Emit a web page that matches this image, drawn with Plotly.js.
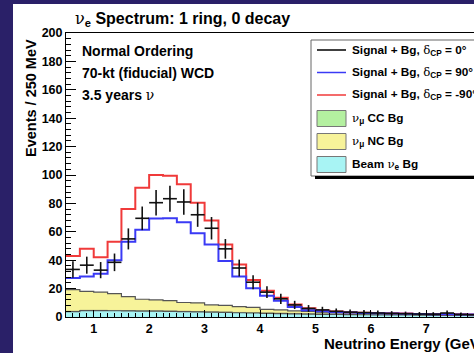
<!DOCTYPE html>
<html>
<head>
<meta charset="utf-8">
<script src="https://cdn.plot.ly/plotly-3.0.1.min.js"></script>
<style>
  html, body { margin: 0; padding: 0; width: 474px; height: 353px; background: #2a2068; overflow: hidden; }
  #chart { position: absolute; left: 13px; top: 4px; width: 461px; height: 349px; background: #ffffff; overflow: hidden; }
</style>
</head>
<body>
<div id="chart"></div>
<script>
// ---- data ----
const binCenters = [0.625, 0.875, 1.125, 1.375, 1.625, 1.875, 2.125, 2.375, 2.625, 2.875,
                    3.125, 3.375, 3.625, 3.875, 4.125, 4.375, 4.625, 4.875, 5.125, 5.375,
                    5.625, 5.875, 6.125, 6.375, 6.625, 6.875, 7.125, 7.375, 7.625, 7.875];
const binWidth = 0.25;

// Signal + Bg, dCP = 0 (points with errors)
const sigBgCP0 = [33.5, 36.5, 33, 38.5, 55, 69.5, 80.5, 83.3, 81, 72,
                  62.5, 48, 34.5, 24.5, 17.5, 12.8, 8.5, 6.0, 5.0, 4.0,
                  3.4, 3.1, 2.8, 2.5, 2.3, 2.1, 2.0, 2.8, 1.8, 1.6];
const errCP0   = [5.8, 6.0, 5.7, 6.2, 7.4, 8.3, 9.0, 9.1, 9.0, 8.5,
                  7.9, 6.9, 5.9, 4.9, 4.2, 3.6, 2.9, 2.4, 2.2, 2.0,
                  1.8, 1.8, 1.7, 1.6, 1.5, 1.4, 1.4, 1.7, 1.3, 1.3];
// Signal + Bg, dCP = 90
const sigBgCP90 = [27.5, 28.5, 30.5, 40, 53, 61.5, 69.3, 69.5, 66.8, 59,
                   51, 39.5, 28.6, 20.3, 15, 11.5, 7.0, 4.8, 4.0, 3.4,
                   3.1, 2.9, 2.7, 2.5, 2.3, 2.2, 2.0, 1.9, 1.8, 1.7];
// Signal + Bg, dCP = -90
const sigBgCPm90 = [43, 48, 42, 53, 76, 91, 100, 99.5, 93.5, 80.5,
                    68, 51, 37, 26, 18.5, 13.5, 8.8, 6.2, 4.5, 3.8,
                    3.3, 3.0, 2.8, 2.6, 2.4, 2.2, 2.1, 2.0, 1.9, 1.8];
// Backgrounds (stacked: beam nue, numu CC, numu NC)
const beamNueBg = [3.8, 4.5, 4.5, 4.4, 4.3, 4.2, 4.1, 4.0, 3.8, 3.6,
                   3.4, 3.2, 3.0, 2.8, 2.6, 2.4, 2.2, 2.0, 1.9, 1.8,
                   1.7, 1.6, 1.5, 1.4, 1.4, 1.3, 1.2, 1.2, 1.1, 1.0];
const numuCCBg  = [0.2, 0.2, 0.2, 0.2, 0.2, 0.2, 0.2, 0.2, 0.2, 0.2,
                   0.2, 0.2, 0.2, 0.2, 0.2, 0.3, 0.3, 0.3, 0.3, 0.3,
                   0.3, 0.3, 0.3, 0.3, 0.3, 0.3, 0.3, 0.3, 0.3, 0.3];
const numuNCBg  = [15.3, 13.3, 12.8, 11.9, 9.9, 8.1, 7.7, 7.3, 6.2, 6.2,
                   4.9, 4.8, 4.1, 3.8, 2.6, 2.3, 1.8, 1.7, 1.3, 1.1,
                   1.0, 0.9, 0.8, 0.7, 0.5, 0.5, 0.4, 0.3, 0.3, 0.3];

const xTickVals = [1, 2, 3, 4, 5, 6, 7];
const yTickVals = [0, 20, 40, 60, 80, 100, 120, 140, 160, 180, 200];

// ---- helpers: histogram step outlines from bin centers ----
const edges = binCenters.map(c => c - binWidth / 2).concat([binCenters[binCenters.length - 1] + binWidth / 2]);
const stepY = arr => arr.concat([arr[arr.length - 1]]);
const add = (a, b) => a.map((v, i) => v + b[i]);

const stackBeam = beamNueBg;
const stackCC = add(stackBeam, numuCCBg);
const stackNC = add(stackCC, numuNCBg);

const FONT = 'Liberation Sans, Arial, Helvetica, sans-serif';
const GREEK = 'DejaVu Serif, Liberation Serif, serif';
const g = s => `<span style="font-family:${GREEK};font-weight:normal">${s}</span>`;

const COL = {
  nc: '#f7f39a', cc: '#b4f0a0', beam: '#a8f4f4',
  red: '#f03a3a', blue: '#3a3af5', black: '#111111', bgLine: '#555555'
};

const traces = [
  { x: edges, y: stepY(stackNC), type: 'scatter', mode: 'lines',
    line: { shape: 'hv', color: COL.bgLine, width: 1.2 },
    fill: 'tozeroy', fillcolor: COL.nc, name: 'ν_μ NC Bg', showlegend: false },
  { x: edges, y: stepY(stackCC), type: 'scatter', mode: 'lines',
    line: { shape: 'hv', color: '#7a8a6a', width: 0.8 },
    fill: 'tozeroy', fillcolor: COL.cc, name: 'ν_μ CC Bg', showlegend: false },
  { x: edges, y: stepY(stackBeam), type: 'scatter', mode: 'lines',
    line: { shape: 'hv', color: COL.bgLine, width: 1.2 },
    fill: 'tozeroy', fillcolor: COL.beam, name: 'Beam ν_e Bg', showlegend: false },
  { x: edges, y: stepY(sigBgCPm90), type: 'scatter', mode: 'lines',
    line: { shape: 'hv', color: COL.red, width: 2 },
    name: 'Signal + Bg, δCP = -90°', showlegend: false },
  { x: edges, y: stepY(sigBgCP90), type: 'scatter', mode: 'lines',
    line: { shape: 'hv', color: COL.blue, width: 2 },
    name: 'Signal + Bg, δCP = 90°', showlegend: false },
  { x: binCenters, y: sigBgCP0, type: 'scatter', mode: 'markers',
    marker: { size: 2, color: COL.black },
    error_x: { type: 'constant', value: binWidth / 2, width: 0, thickness: 1.6, color: COL.black },
    error_y: { type: 'data', array: errCP0, visible: true, width: 0, thickness: 1.6, color: COL.black },
    name: 'Signal + Bg, δCP = 0°', showlegend: false }
];

// page-pixel -> paper coordinates
const plotTop = 29, plotH = 284, plotLeft = 53, plotW = 408;
const py = pageY => 1 - (pageY - 4 - plotTop) / plotH;
const px = pageX => (pageX - 13 - plotLeft) / plotW;

// ---- legend (ROOT-style box, drawn as shapes + annotations) ----
const legendEntries = [
  { kind: 'line', color: '#000000', text: 'Signal + Bg, ' + g('δ') + '<sub>CP</sub> = 0°' },
  { kind: 'line', color: COL.blue,  text: 'Signal + Bg, ' + g('δ') + '<sub>CP</sub> = 90°' },
  { kind: 'line', color: COL.red,   text: 'Signal + Bg, ' + g('δ') + '<sub>CP</sub> = -90°' },
  { kind: 'box',  color: COL.cc,    text: g('ν') + '<sub>μ</sub> CC Bg' },
  { kind: 'box',  color: COL.nc,    text: g('ν') + '<sub>μ</sub> NC Bg' },
  { kind: 'box',  color: COL.beam,  text: 'Beam ' + g('ν') + '<sub>e</sub> Bg' }
];
const legendRowsY = [50, 72.5, 95, 118.5, 141.5, 164.5];

const shapes = [
  { type: 'rect', xref: 'paper', yref: 'paper', x0: px(311), x1: px(490), y0: py(40), y1: py(176),
    fillcolor: '#ffffff', line: { color: '#666666', width: 1 } },
  { type: 'line', xref: 'paper', yref: 'paper', x0: px(315), x1: px(490), y0: py(177.5), y1: py(177.5),
    line: { color: '#000000', width: 3 } }
];
const annotations = [];
legendEntries.forEach((e, i) => {
  const yc = legendRowsY[i];
  if (e.kind === 'line') {
    shapes.push({ type: 'line', xref: 'paper', yref: 'paper', x0: px(317), x1: px(346), y0: py(yc), y1: py(yc),
      line: { color: e.color, width: 1.5 } });
  } else {
    shapes.push({ type: 'rect', xref: 'paper', yref: 'paper', x0: px(317), x1: px(346), y0: py(yc - 8), y1: py(yc + 8),
      fillcolor: e.color, line: { color: '#777777', width: 1 } });
  }
  annotations.push({ text: e.text, xref: 'paper', yref: 'paper', x: px(350), xanchor: 'left',
    y: py(yc), yanchor: 'middle', showarrow: false,
    font: { family: FONT, size: 11.8, weight: 'bold', color: '#000000' } });
});

annotations.push(
  { text: 'Events / 250 MeV', textangle: -90, xref: 'paper', yref: 'paper',
    x: px(31), xanchor: 'center', y: py(37), yanchor: 'top', showarrow: false,
    font: { family: FONT, size: 14.5, weight: 'bold' } },
  { text: 'Neutrino Energy (GeV)', xref: 'paper', yref: 'paper',
    x: px(322), xanchor: 'left', y: py(343), yanchor: 'middle', showarrow: false,
    font: { family: FONT, size: 15, weight: 'bold' } },
  { text: 'Normal Ordering', xref: 'paper', yref: 'paper',
    x: px(80), xanchor: 'left', y: py(51), yanchor: 'middle', showarrow: false,
    font: { family: FONT, size: 14, weight: 'bold' } },
  { text: '70-kt (fiducial) WCD', xref: 'paper', yref: 'paper',
    x: px(80), xanchor: 'left', y: py(73), yanchor: 'middle', showarrow: false,
    font: { family: FONT, size: 14, weight: 'bold' } },
  { text: '3.5 years ' + g('ν'), xref: 'paper', yref: 'paper',
    x: px(80), xanchor: 'left', y: py(95), yanchor: 'middle', showarrow: false,
    font: { family: FONT, size: 14, weight: 'bold' } }
);

const layout = {
  width: 461, height: 349,
  margin: { l: plotLeft, r: 0, t: plotTop, b: 36, pad: 0, autoexpand: false },
  paper_bgcolor: '#ffffff', plot_bgcolor: '#ffffff',
  font: { family: FONT, color: '#000000' },
  showlegend: false,
  title: {
    text: g('ν') + '<sub>e</sub> Spectrum: 1 ring, 0 decay',
    font: { family: FONT, size: 16, weight: 'bold', color: '#000000' },
    xref: 'container', yref: 'container',
    x: (75 - 13) / 461, xanchor: 'left',
    y: 1 - (18 - 4) / 349, yanchor: 'middle'
  },
  xaxis: {
    range: [0.5, 7.86], tickvals: xTickVals, ticktext: xTickVals.map(String),
    ticks: 'inside', ticklen: 7, tickwidth: 1, tickcolor: '#000000',
    showline: true, linecolor: '#000000', linewidth: 1, mirror: true,
    showgrid: false, zeroline: false, automargin: false,
    tickfont: { family: FONT, size: 12.5, weight: 'bold', color: '#000000' },
    minor: { dtick: 0.125, tick0: 0.5, ticks: 'inside', ticklen: 4, tickcolor: '#000000', showgrid: false }
  },
  yaxis: {
    range: [0, 200], tickvals: yTickVals, ticktext: yTickVals.map(String),
    ticks: 'inside', ticklen: 10, tickwidth: 1, tickcolor: '#000000',
    showline: true, linecolor: '#000000', linewidth: 1, mirror: false,
    showgrid: false, zeroline: false, automargin: false,
    tickfont: { family: FONT, size: 12.5, weight: 'bold', color: '#000000' },
    minor: { dtick: 4, tick0: 0, ticks: 'inside', ticklen: 5, tickcolor: '#000000', showgrid: false }
  },
  annotations: annotations,
  shapes: shapes
};

Plotly.newPlot('chart', traces, layout, { staticPlot: true, displayModeBar: false });
</script>
</body>
</html>
